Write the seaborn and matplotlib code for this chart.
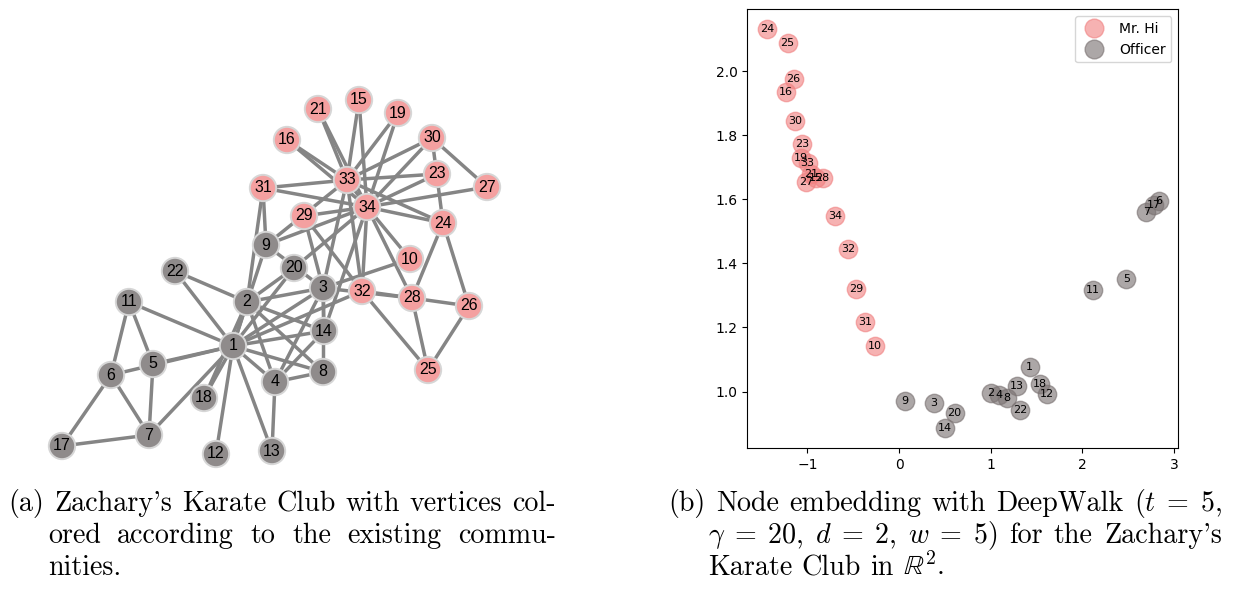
import matplotlib
matplotlib.use("Agg")
import matplotlib.pyplot as plt
from matplotlib.collections import LineCollection
from matplotlib.lines import Line2D
import pandas as pd
import seaborn as sns

# Zachary's karate club: members 1..34 and the community each one belongs to
members = list(range(1, 35))
community = [
    "Officer", "Officer", "Officer", "Officer", "Officer", "Officer", "Officer",
    "Officer", "Officer", "Mr. Hi", "Officer", "Officer", "Officer", "Officer",
    "Mr. Hi", "Mr. Hi", "Officer", "Officer", "Mr. Hi", "Officer", "Mr. Hi",
    "Officer", "Mr. Hi", "Mr. Hi", "Mr. Hi", "Mr. Hi", "Mr. Hi", "Mr. Hi",
    "Mr. Hi", "Mr. Hi", "Mr. Hi", "Mr. Hi", "Mr. Hi", "Mr. Hi",
]

# force-directed layout of the friendship graph
layout_x = [-0.37, -0.23, 0.53, 0.05, -1.17, -1.59, -1.21, 0.53, -0.04, 1.40,
            -1.41, -0.54, 0.02, 0.54, 0.89, 0.17, -2.08, -0.66, 1.28, 0.24,
            0.48, -0.95, 1.67, 1.73, 1.58, 1.99, 2.17, 1.42, 0.34, 1.62,
            -0.07, 0.92, 0.77, 0.97]
layout_y = [-0.56, -0.12, 0.02, -0.92, -0.74, -0.85, -1.45, -0.82, 0.45, 0.31,
            -0.12, -1.64, -1.61, -0.41, 1.90, 1.50, -1.56, -1.08, 1.77, 0.22,
            1.81, 0.19, 1.16, 0.67, -0.80, -0.16, 1.03, -0.08, 0.74, 1.52,
            1.02, -0.01, 1.10, 0.83]

# friendship ties
edges = [
    (1, 2), (1, 3), (1, 4), (1, 5), (1, 6), (1, 7), (1, 8), (1, 9), (1, 11),
    (1, 12), (1, 13), (1, 14), (1, 18), (1, 20), (1, 22), (1, 32),
    (2, 3), (2, 4), (2, 8), (2, 14), (2, 18), (2, 20), (2, 22), (2, 31),
    (3, 4), (3, 8), (3, 9), (3, 10), (3, 14), (3, 28), (3, 29), (3, 33),
    (4, 8), (4, 13), (4, 14), (5, 7), (5, 11), (6, 7), (6, 11), (6, 17),
    (7, 17), (9, 31), (9, 33), (9, 34), (10, 34), (14, 34), (15, 33),
    (15, 34), (16, 33), (16, 34), (19, 33), (19, 34), (20, 34), (21, 33),
    (21, 34), (23, 33), (23, 34), (24, 26), (24, 28), (24, 30), (24, 33),
    (24, 34), (25, 26), (25, 28), (25, 32), (26, 32), (27, 30), (27, 34),
    (28, 34), (29, 32), (29, 34), (30, 33), (30, 34), (31, 33), (31, 34),
    (32, 33), (32, 34), (33, 34),
]

# DeepWalk embedding in two dimensions
emb_x = [1.425, 1.000, 0.382, 1.087, 2.483, 2.835, 2.701, 1.174, 0.065, -0.265,
         2.120, 1.618, 1.283, 0.498, -0.908, -1.236, 2.781, 1.534, -1.072, 0.607,
         -0.963, 1.320, -1.061, -1.443, -1.217, -1.152, -1.017, -0.835, -0.472,
         -1.134, -0.371, -0.552, -0.999, -0.698]
emb_y = [1.078, 0.994, 0.963, 0.988, 1.352, 1.595, 1.559, 0.980, 0.970, 1.142,
         1.316, 0.991, 1.016, 0.885, 1.666, 1.935, 1.581, 1.024, 1.728, 0.933,
         1.678, 0.941, 1.774, 2.131, 2.087, 1.977, 1.654, 1.667, 1.321, 1.845,
         1.217, 1.444, 1.713, 1.549]

club_order = ["Mr. Hi", "Officer"]

# caption lines, word by word (justified like the surrounding document)
caption_a = [
    ["(a)", "Zachary's", "Karate", "Club", "with", "vertices", "col-"],
    ["ored", "according", "to", "the", "existing", "commu-"],
    ["nities."],
]
caption_b = [
    ["(b)", "Node", "embedding", "with", "DeepWalk", "($t\\;=\\;5$,"],
    ["$\\gamma\\;=\\;20$,", "$d\\;=\\;2$,", "$w\\;=\\;5$)", "for", "the",
     "Zachary's"],
    ["Karate", "Club", "in", "$\\mathbb{R}^2$."],
]

graph_df = pd.DataFrame({"member": members, "club": community,
                         "x": layout_x, "y": layout_y})
emb_df = pd.DataFrame({"member": members, "club": community,
                       "x": emb_x, "y": emb_y})

plt.rcParams["mathtext.fontset"] = "cm"

W, H = 1236, 589
fig = plt.figure(figsize=(W / 100, H / 100), dpi=100)

# ---------------- (a) graph drawing ----------------
ax_g = fig.add_axes([45 / W, 1 - 470 / H, 460 / W, 387 / H])
pos = {m: (x, y) for m, x, y in zip(members, layout_x, layout_y)}
segments = [[pos[a], pos[b]] for a, b in edges]
ax_g.add_collection(LineCollection(segments, colors="#858585",
                                   linewidths=2.5, zorder=1))
graph_palette = {"Mr. Hi": "#f4a0a0", "Officer": "#8f8b8b"}
sns.scatterplot(data=graph_df, x="x", y="y", hue="club",
                palette=graph_palette, s=360, edgecolor="#d6d6d6",
                linewidth=1.4, legend=False, zorder=2, ax=ax_g)
for m, x, y in zip(members, layout_x, layout_y):
    ax_g.text(x, y, str(m), ha="center", va="center", fontsize=11.5,
              family="Liberation Sans", color="black", zorder=3)
ax_g.set_xlim(-2.25, 2.35)
ax_g.set_ylim(-1.80, 2.07)
ax_g.set_axis_off()

# ---------------- (b) DeepWalk embedding ----------------
ax_e = fig.add_axes([747.3 / W, 1 - 448.3 / H, (1178.3 - 747.3) / W,
                     (448.3 - 9.3) / H])
emb_palette = {"Mr. Hi": "#f08080", "Officer": "#7a7272"}
emb_alpha = {"Mr. Hi": 0.6, "Officer": 0.62}
for club in club_order:
    sub = emb_df[emb_df["club"] == club]
    sns.scatterplot(data=sub, x="x", y="y", color=emb_palette[club],
                    alpha=emb_alpha[club], s=175, edgecolor="face",
                    linewidth=1.0, legend=False, ax=ax_e)
for m, x, y in zip(members, emb_x, emb_y):
    ax_e.text(x, y, str(m), ha="center", va="center", fontsize=8,
              color="black")
ax_e.set_xlabel("")
ax_e.set_ylabel("")
ax_e.set_xticks([-1, 0, 1, 2, 3])
ax_e.set_yticks([1.0, 1.2, 1.4, 1.6, 1.8, 2.0])
handles = [Line2D([], [], marker="o", linestyle="", markersize=13.5,
                  markerfacecolor=emb_palette[c], markeredgecolor=emb_palette[c],
                  alpha=emb_alpha[c], label=c) for c in club_order]
ax_e.legend(handles=handles, loc="upper right", fontsize=10)

# ---------------- captions ----------------
CAP_SIZE = 20.2
cap = dict(family="cmr10", fontsize=CAP_SIZE, va="baseline", ha="left")
renderer = fig.canvas.get_renderer()
space_px = 0.333 * CAP_SIZE * 100 / 72


def set_paragraph(lines, x_first, x_rest, x_right, y_first, leading):
    for i, words in enumerate(lines):
        y = 1 - (y_first + i * leading) / H
        x0 = x_first if i == 0 else x_rest
        texts = [fig.text(0, y, w, **cap) for w in words]
        widths = [t.get_window_extent(renderer=renderer).width for t in texts]
        last = i == len(lines) - 1
        if last or len(words) == 1:
            gap = space_px
        else:
            gap = (x_right - x0 - sum(widths)) / (len(words) - 1)
        x = x0
        for t, w in zip(texts, widths):
            t.set_x(x / W)
            x += w + gap


set_paragraph(caption_a, 8, 48, 556, 511, 32)
set_paragraph(caption_b, 668, 708, 1222, 511, 32)

fig.savefig("out.png", dpi=100)
